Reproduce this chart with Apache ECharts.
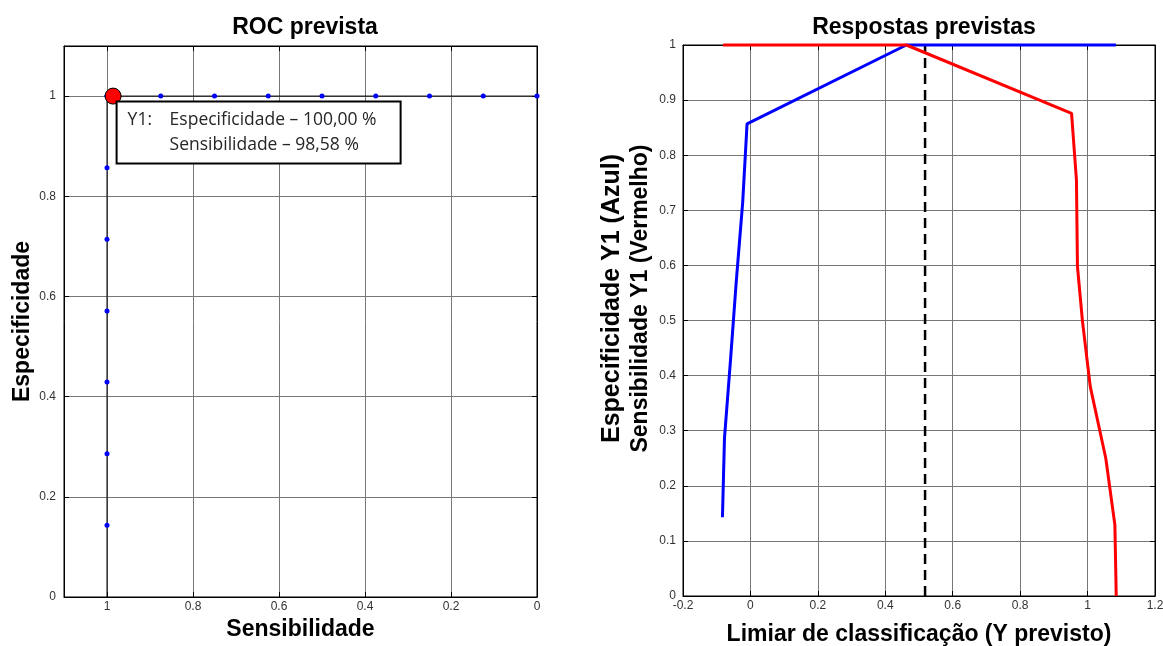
<!DOCTYPE html>
<html>
<head>
<meta charset="utf-8">
<script src="https://cdn.jsdelivr.net/npm/echarts@6/dist/echarts.min.js"></script>
<style>
  html, body { margin: 0; padding: 0; background: #fff; }
  #chart { width: 1163px; height: 646px; }
</style>
</head>
<body>
<div id="chart"></div>
<script>
// ROC curve (Y1): sensitivity on x, specificity on y
const rocSens = [1, 1, 1, 1, 1, 1, 1, 1, 1, 0.875, 0.75, 0.625, 0.5, 0.375, 0.25, 0.125, 0];
const rocSpec = [0, 0.143, 0.286, 0.429, 0.571, 0.714, 0.857, 1, 1, 1, 1, 1, 1, 1, 1, 1, 1];
// chosen operating point
const bestSens = 0.9858;
const bestSpec = 1.0;

// specificity (blue) and sensitivity (red) vs classification threshold
const specThreshold = [-0.083, -0.077, -0.059, -0.042, -0.023, -0.010, 0.4625, 1.084];
const specValues    = [0.143, 0.286, 0.429, 0.571, 0.714, 0.857, 1, 1];
const sensThreshold = [-0.081, 0.4625, 0.9525, 0.967, 0.970, 0.985, 1.008, 1.054, 1.081, 1.085];
const sensValues    = [1, 1, 0.876, 0.755, 0.598, 0.498, 0.38, 0.25, 0.129, 0];
const cutoff = 0.518;

const titles = ['ROC prevista', 'Respostas previstas'];

const pair = (xs, ys) => xs.map((x, i) => [x, ys[i]]);

const FONT = '"Liberation Sans", Arial, sans-serif';
const tickLabel = { color: '#333', fontSize: 12, fontFamily: FONT };
const nameStyle = { color: '#000', fontSize: 23, fontWeight: 'bold', fontFamily: FONT };
const gridLine = { show: true, lineStyle: { color: '#777', width: 1 } };
const innerTick = { show: true, inside: true, length: 5, lineStyle: { color: '#000' } };
const blackLine = { show: true, onZero: false, lineStyle: { color: '#000', width: 1 } };

function fmt(v) {
  const r = Math.round(v * 10) / 10;
  if (Math.abs(v - r) > 1e-6) return '';
  return String(+r.toFixed(1));
}
function fmtEven(v) {
  const r = Math.round(v * 5) / 5;
  if (Math.abs(v - r) > 1e-6) return '';
  return String(+r.toFixed(1));
}

const chart = echarts.init(document.getElementById('chart'), null, { renderer: 'canvas' });

const boxText = { fontSize: 17.5, lineHeight: 25, color: '#262626', fontFamily: '"Open Sans", sans-serif',
                  textBorderWidth: 0, textShadowBlur: 0 };

chart.setOption({
  backgroundColor: '#fff',
  animation: false,
  title: [
    { text: titles[0], left: 300, top: 11, textAlign: 'center',
      textStyle: { fontSize: 23, fontWeight: 'bold', color: '#000', fontFamily: FONT } },
    { text: titles[1], left: 919, top: 11, textAlign: 'center',
      textStyle: { fontSize: 23, fontWeight: 'bold', color: '#000', fontFamily: FONT } }
  ],
  grid: [
    { left: 64, top: 46, width: 473, height: 551, show: true, borderColor: '#000', borderWidth: 1,
      backgroundColor: '#fff', containLabel: false, outerBoundsMode: 'none' },
    { left: 683, top: 45, width: 472, height: 551, show: true, borderColor: '#000', borderWidth: 1,
      backgroundColor: '#fff', containLabel: false, outerBoundsMode: 'none' }
  ],
  xAxis: [
    { type: 'value', gridIndex: 0, min: 0, max: 1.1, interval: 0.2, inverse: true,
      name: 'Sensibilidade', nameLocation: 'middle', nameGap: 19, nameTextStyle: nameStyle,
      axisLine: blackLine, axisTick: innerTick, splitLine: gridLine,
      axisLabel: Object.assign({ margin: 4, formatter: fmtEven, showMaxLabel: false }, tickLabel) },
    { type: 'value', gridIndex: 0, min: 0, max: 1.1, interval: 0.2, inverse: true, position: 'top',
      axisLine: blackLine, axisTick: innerTick, splitLine: { show: false }, axisLabel: { show: false } },
    { type: 'value', gridIndex: 1, min: -0.2, max: 1.2, interval: 0.2,
      name: 'Limiar de classificação (Y previsto)', nameLocation: 'middle', nameGap: 27, nameTextStyle: nameStyle,
      axisLine: blackLine, axisTick: innerTick, splitLine: gridLine,
      axisLabel: Object.assign({ margin: 4, formatter: fmtEven }, tickLabel) },
    { type: 'value', gridIndex: 1, min: -0.2, max: 1.2, interval: 0.2, position: 'top',
      axisLine: blackLine, axisTick: innerTick, splitLine: { show: false }, axisLabel: { show: false } }
  ],
  yAxis: [
    { type: 'value', gridIndex: 0, min: 0, max: 1.1, interval: 0.2,
      name: 'Especificidade', nameLocation: 'middle', nameGap: 30, nameTextStyle: nameStyle,
      axisLine: blackLine, axisTick: innerTick, splitLine: gridLine,
      axisLabel: Object.assign({ margin: 8, formatter: fmtEven, showMaxLabel: false }, tickLabel) },
    { type: 'value', gridIndex: 0, min: 0, max: 1.1, interval: 0.2, position: 'right',
      axisLine: blackLine, axisTick: innerTick, splitLine: { show: false }, axisLabel: { show: false } },
    { type: 'value', gridIndex: 1, min: 0, max: 1, interval: 0.1,
      name: '{l1|Especificidade Y1 (Azul)}\n{l2|Sensibilidade Y1 (Vermelho)}', nameLocation: 'middle', nameGap: 25,
      nameTextStyle: Object.assign({}, nameStyle, {
        lineHeight: 29, padding: [0, 0, 0, 44],
        rich: {
          l1: { fontSize: 25, lineHeight: 29, fontWeight: 'bold', color: '#000', fontFamily: FONT },
          l2: { fontSize: 23, lineHeight: 29, fontWeight: 'bold', color: '#000', fontFamily: FONT }
        }
      }),
      axisLine: blackLine, axisTick: innerTick, splitLine: gridLine,
      axisLabel: Object.assign({ margin: 7, formatter: fmt }, tickLabel) },
    { type: 'value', gridIndex: 1, min: 0, max: 1, interval: 0.1, position: 'right',
      axisLine: blackLine, axisTick: innerTick, splitLine: { show: false }, axisLabel: { show: false } }
  ],
  series: [
    {
      name: 'ROC', type: 'line', xAxisIndex: 0, yAxisIndex: 0,
      data: pair(rocSens, rocSpec), showSymbol: false, clip: false,
      lineStyle: { color: '#000', width: 1 }, z: 2
    },
    {
      name: 'ROC pontos', type: 'scatter', xAxisIndex: 0, yAxisIndex: 0,
      data: pair(rocSens, rocSpec).slice(1), symbolSize: 5, clip: false,
      itemStyle: { color: '#0000ff', opacity: 1 }, z: 3
    },
    {
      name: 'Y1', type: 'scatter', xAxisIndex: 0, yAxisIndex: 0,
      data: [[bestSens, bestSpec]], symbolSize: 16, clip: false,
      itemStyle: { color: '#ff0000', borderColor: '#000', borderWidth: 1, opacity: 1 }, z: 4,
      label: {
        show: true, position: [13, 15], opacity: 1,
        formatter: '{a|Y1:}{b|Especificidade – 100,00 %}\n{a|}{b|Sensibilidade – 98,58 %}',
        backgroundColor: '#fff', borderColor: '#000', borderWidth: 2,
        padding: [5, 10, 5, 10], textBorderWidth: 0, textShadowBlur: 0,
        rich: {
          a: Object.assign({ width: 42 }, boxText),
          b: Object.assign({ width: 220 }, boxText)
        }
      }
    },
    {
      name: 'Especificidade', type: 'line', xAxisIndex: 2, yAxisIndex: 2,
      data: pair(specThreshold, specValues), showSymbol: false, clip: false,
      lineStyle: { color: '#0000ff', width: 3 }, z: 3
    },
    {
      name: 'Sensibilidade', type: 'line', xAxisIndex: 2, yAxisIndex: 2,
      data: pair(sensThreshold, sensValues), showSymbol: false, clip: false,
      lineStyle: { color: '#ff0000', width: 3 }, z: 3
    },
    {
      name: 'Limiar', type: 'line', xAxisIndex: 2, yAxisIndex: 2,
      data: [[cutoff, 0], [cutoff, 1]], showSymbol: false,
      lineStyle: { color: '#000', width: 2.5, type: [10, 6] }, z: 2
    }
  ]
});
</script>
</body>
</html>
